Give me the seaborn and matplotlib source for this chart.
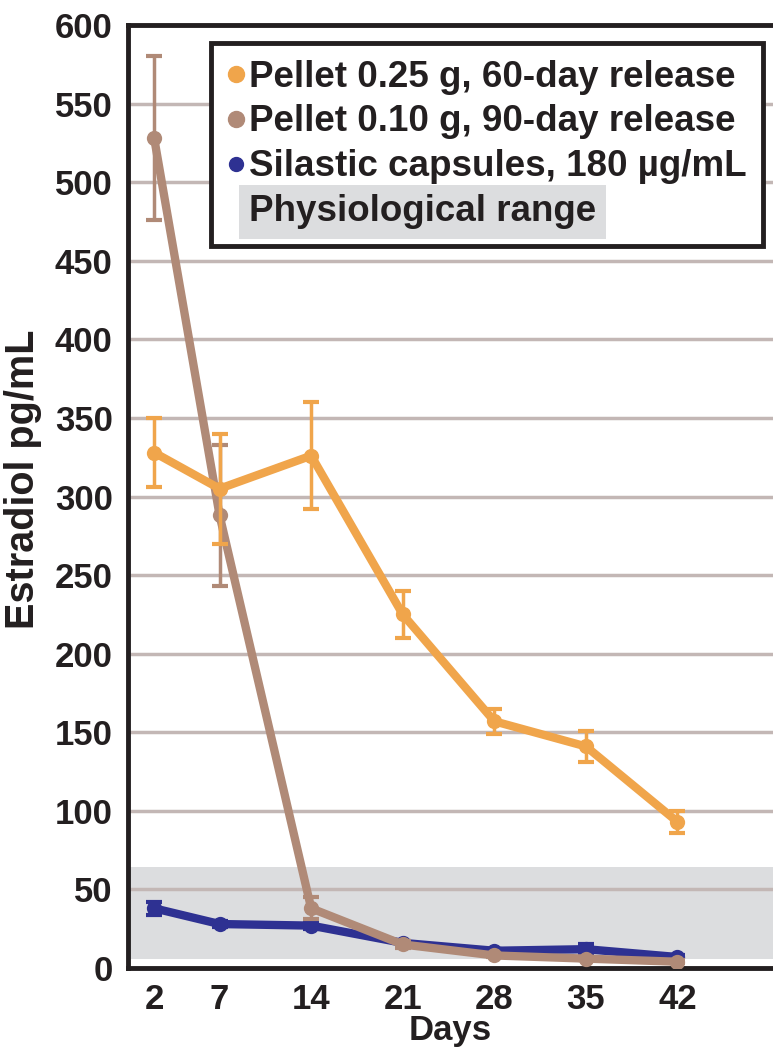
import matplotlib
matplotlib.use("Agg")
import matplotlib.pyplot as plt
from matplotlib.lines import Line2D
import numpy as np
import pandas as pd
import seaborn as sns

# Datos
dias = [2, 7, 14, 21, 28, 35, 42]
pellet_025 = [328, 305, 326, 225, 157, 141, 93]
pellet_025_err = [22, 35, 34, 15, 8, 10, 7]
pellet_010 = [528, 288, 38, 15, 8, 6, 4]
pellet_010_err = [52, 45, 7, 2, 1, 1, 1]
silastic = [38, 28, 27, 16, 11, 12, 7]
silastic_err = [4, 2, 2, 1, 1, 3, 1]
rango_fisiologico = (6, 64)

etiquetas = ["Pellet 0.25 g, 60-day release",
             "Pellet 0.10 g, 90-day release",
             "Silastic capsules, 180 \u00b5g/mL"]
colores = ["#F0A54B", "#B08A77", "#2E3192"]
negro = "#231F20"

sns.set_style("white")
plt.rcParams['font.family'] = ['Liberation Sans', 'DejaVu Sans']
plt.rcParams['font.weight'] = 'bold'

fig = plt.figure(figsize=(7.73, 10.48), dpi=100)
ax = fig.add_axes([0.1656, 0.0763, 0.8344, 0.8998])

ax.axhspan(*rango_fisiologico, color="#DCDDDF", zorder=0, lw=0)
for y in range(50, 600, 50):
    ax.axhline(y, color="#C3B7B5", lw=2.5, zorder=0.5)

df = pd.DataFrame({
    "dia": dias * 3,
    "valor": silastic + pellet_010 + pellet_025,
    "err": silastic_err + pellet_010_err + pellet_025_err,
    "grupo": [etiquetas[2]] * 7 + [etiquetas[1]] * 7 + [etiquetas[0]] * 7,
})

# orden de dibujo: azul abajo, naranja arriba
for z, i in enumerate([2, 1, 0]):
    sub = df[df["grupo"] == etiquetas[i]]
    ax.errorbar(sub["dia"], sub["valor"], yerr=sub["err"], fmt="none",
                ecolor=colores[i], elinewidth=2.5, capsize=6, capthick=3,
                zorder=2 + z)
    sns.lineplot(data=sub, x="dia", y="valor", color=colores[i], lw=6,
                 marker="o", markersize=11, markeredgewidth=0, ax=ax,
                 zorder=2.5 + z, legend=False)

ax.set_xlim(0, 49.3)
ax.set_ylim(0, 600)
ax.set_xticks(dias)
ax.set_xticks([0], minor=True)
ax.set_yticks(range(0, 601, 50))
ax.tick_params(axis="both", which="both", direction="out", length=9, width=3,
               labelsize=25, pad=2, color=negro, labelcolor=negro)
for s in ["left", "bottom", "top"]:
    ax.spines[s].set_linewidth(3.5)
    ax.spines[s].set_color(negro)
ax.spines["right"].set_visible(False)

ax.set_xlabel("Days", fontsize=25, fontweight="bold", labelpad=-2, color=negro)
ax.set_ylabel("Estradiol pg/mL", fontsize=28.5, fontweight="bold", color=negro)
ax.yaxis.set_label_coords(-0.133, 0.518)

handles = [
    Line2D([], [], ls="none", marker="o", markersize=11.5, color=colores[0]),
    Line2D([], [], ls="none", marker="o", markersize=11.5, color=colores[1]),
    Line2D([], [], ls="none", marker="o", markersize=10, color=colores[2]),
    Line2D([], [], ls="none", marker=None),
]
leg = ax.legend(handles, etiquetas + ["Physiological range"], loc="upper right",
                bbox_to_anchor=(0.9845, 0.981), handlelength=0.45,
                handletextpad=0.12, borderaxespad=0, borderpad=0.45,
                labelspacing=0.27, fancybox=False, framealpha=1,
                edgecolor=negro, prop={"weight": "bold", "size": 26.5})
leg.get_frame().set_linewidth(3.5)
leg.set_zorder(10)
textos = leg.get_texts()
for t in textos:
    t.set_color(negro)
textos[3].set_bbox(dict(facecolor="#DCDDDF", edgecolor="none", pad=7))

fig.savefig("out.png", dpi=100)
